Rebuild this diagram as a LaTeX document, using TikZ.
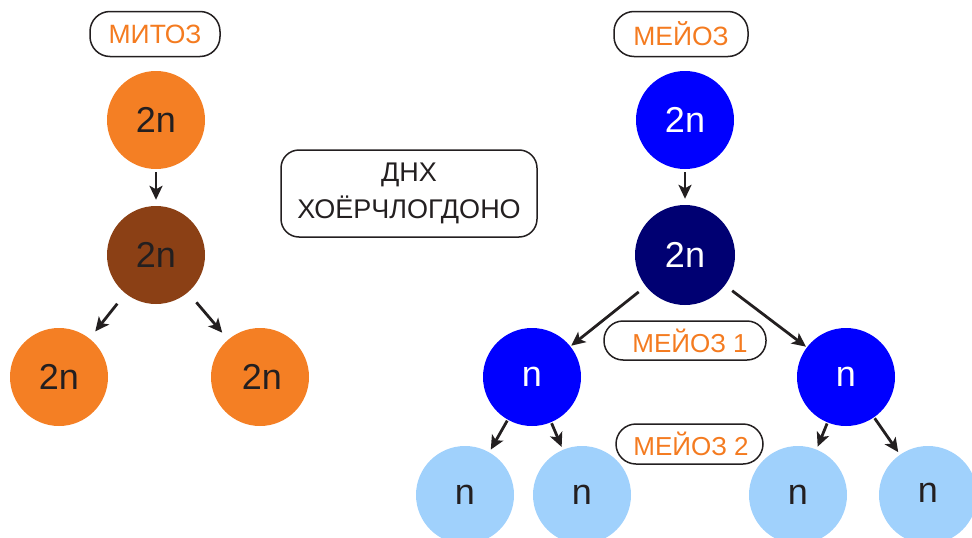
\documentclass[tikz,border=0pt]{standalone}
\usepackage{fontspec}
\setmainfont{Liberation Sans}
\usetikzlibrary{arrows.meta}
\definecolor{orng}{HTML}{F47F24}
\definecolor{brwn}{HTML}{8B4015}
\definecolor{blu}{HTML}{0000FF}
\definecolor{navy}{HTML}{000072}
\definecolor{lblu}{HTML}{A0D1FC}
\definecolor{dark}{HTML}{231F20}
\definecolor{otxt}{HTML}{F47B20}
\tikzset{
  cell/.style={circle, minimum size=98pt, inner sep=0pt, font=\fontsize{36}{36}\selectfont},
  lbl/.style={draw=dark, line width=1.5pt, rounded corners=20pt, inner sep=0pt, text=otxt, font=\fontsize{26.5}{26.5}\selectfont},
  arr/.style={-{Stealth[length=14pt,width=13pt,inset=3.5pt]}, line width=2.8pt, draw=dark},
}
\begin{document}
\begin{tikzpicture}[x=1pt,y=-1pt]
\useasboundingbox (0,0) rectangle (972,538);
% labels
\node[lbl, minimum width=130pt, minimum height=45pt] (lmit) at (155,34) {МИТОЗ};
\node[lbl, minimum width=134pt, minimum height=45pt] (lmei) at (681,34) {МЕЙОЗ};
\node[draw=dark, line width=1.5pt, rounded corners=18pt, minimum width=256pt, minimum height=87pt, inner sep=0pt, align=center, text=dark, font=\fontsize{27}{37}\selectfont] (dnh) at (409,193.5) {ДНХ\\ХОЁРЧЛОГДОНО};
\node[lbl, minimum width=162pt, minimum height=39pt, rounded corners=19pt] (lm1) at (685,340.5) {};
\node[text=otxt, font=\fontsize{26}{26}\selectfont] (tm1) at (690,340.5) {МЕЙОЗ 1};
\node[lbl, minimum width=147pt, minimum height=40pt] (lm2) at (689.5,444) {};
\node[text=otxt, font=\fontsize{26}{26}\selectfont] (tm2) at (691,444) {МЕЙОЗ 2};
% mitosis
\node[cell, fill=orng, text=dark] (a1) at (156,120) {2n};
\node[cell, fill=brwn, text=dark] (a2) at (156,255) {2n};
\node[cell, fill=orng, text=dark] (a3) at (59,377) {2n};
\node[cell, fill=orng, text=dark] (a4) at (260,377) {\hspace{4pt}2n};
\draw[arr, shorten <=3pt, shorten >=6pt] (a1) -- (a2);
\draw[arr, shorten <=13pt, shorten >=9pt] (a2) -- (a3);
\draw[arr, shorten <=13pt, shorten >=9pt] (a2) -- (a4);
% meiosis
\node[cell, fill=blu, text=white] (b1) at (685,120) {2n};
\node[cell, fill=navy, text=white, minimum size=100pt] (b2) at (685,255) {2n};
\node[cell, fill=blu, text=white] (b3) at (532,377) {n};
\node[cell, fill=blu, text=white] (b4) at (846,377) {n};
\node[cell, fill=lblu, text=dark] (c1) at (465,495) {n};
\node[cell, fill=lblu, text=dark] (c2) at (582,495) {n};
\node[cell, fill=lblu, text=dark] (c3) at (798,495) {n};
\node[cell, fill=lblu, text=dark] (c4) at (928,495) {\raisebox{5pt}{n}};
\draw[arr, shorten <=3pt, shorten >=6pt] (b1) -- (b2);
\draw[arr, shorten <=9pt, shorten >=1pt] (b2) -- (b3);
\draw[arr, shorten <=9pt, shorten >=1pt] (b2) -- (b4);
\draw[arr, shorten <=1pt, shorten >=3pt] (b3) -- (c1);
\draw[arr, shorten <=1pt, shorten >=3pt] (b3) -- (c2);
\draw[arr, shorten <=1pt, shorten >=3pt] (b4) -- (c3);
\draw[arr, shorten <=1pt, shorten >=3pt] (b4) -- (c4);
\end{tikzpicture}
\end{document}
